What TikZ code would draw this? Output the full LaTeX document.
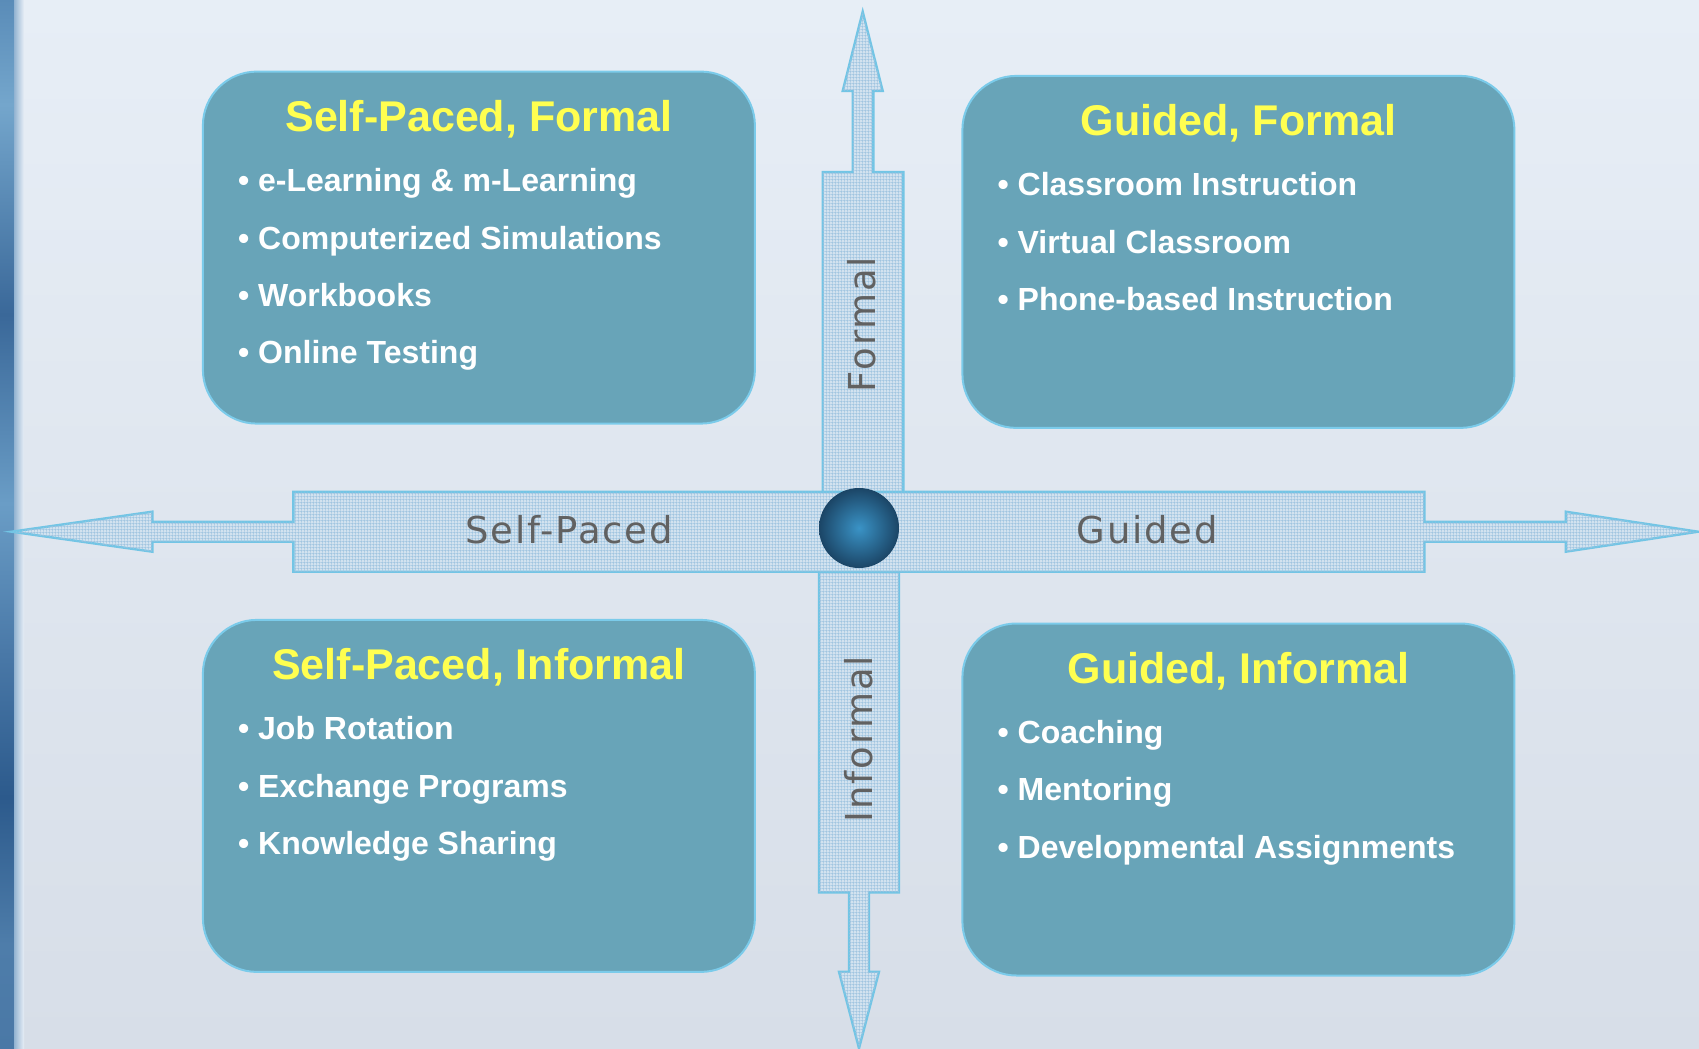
\documentclass[tikz,border=0pt]{standalone}
\usepackage{fontspec}
\usepackage{tikz}
\usetikzlibrary{positioning, patterns.meta}
\setsansfont{Liberation Sans}
\newfontfamily\axisfont[LetterSpace=5]{DejaVu Sans}
\definecolor{bgtop}{HTML}{E7EEF6}
\definecolor{bgbottom}{HTML}{D7DEE8}
\definecolor{boxfill}{HTML}{68A4B8}
\definecolor{boxline}{HTML}{7BCBEA}
\definecolor{titleyellow}{HTML}{FFFF50}
\definecolor{axisgray}{HTML}{616161}
\definecolor{arrowline}{HTML}{72C5E5}
\definecolor{arrowfill}{HTML}{D2E2EF}
\definecolor{meshline}{HTML}{9CC2DF}
\definecolor{hubin}{HTML}{3A93C6}
\definecolor{hubout}{HTML}{1B4566}
\definecolor{stripa}{HTML}{4A78A6}
\definecolor{stripb}{HTML}{4E7DAA}
\definecolor{stripc}{HTML}{2C5A8C}
\definecolor{stripd}{HTML}{4A79A8}
\definecolor{stripe}{HTML}{6A9DC6}
\definecolor{stripf}{HTML}{3A6899}
\definecolor{stripg}{HTML}{74A6CC}
\definecolor{striph}{HTML}{5A8CB8}
\pgfdeclareverticalshading{leftstrip}{100bp}{color(0bp)=(stripa); color(25bp)=(stripa);
  color(30bp)=(stripb); color(37bp)=(stripc); color(44bp)=(stripd);
  color(51bp)=(stripe); color(60bp)=(stripf); color(70bp)=(stripg);
  color(75bp)=(striph); color(100bp)=(striph)}
\tikzdeclarepattern{
  name=meshgrid,
  type=uncolored,
  bounding box={(0pt,0pt) and (1.6pt,1.6pt)},
  tile size={(1.6pt,1.6pt)},
  code={\draw[line width=0.3pt] (0pt,0.8pt) -- (1.6pt,0.8pt) (0.8pt,0pt) -- (0.8pt,1.6pt);}
}

\begin{document}
\begin{tikzpicture}[x=0.5pt, y=-0.5pt, every node/.style={align=center},
    quad/.style={
        draw=boxline,
        line width=1pt,
        fill=boxfill,
        rounded corners=27pt,
        minimum width=276pt,
        minimum height=176pt,
        inner sep=0pt
    },
    quadtitle/.style={
        font=\sffamily\bfseries\fontsize{21.5}{24}\selectfont,
        text=titleyellow,
        text height=15.5pt, text depth=0pt,
        inner sep=0pt
    },
    quaditem/.style={
        font=\sffamily\bfseries\fontsize{16}{19}\selectfont,
        text=white,
        text height=11.5pt, text depth=0pt,
        inner sep=0pt
    },
    axislabel/.style={
        font=\axisfont\fontsize{18.5}{22}\selectfont,
        text=axisgray,
        text height=13.5pt, text depth=0pt,
        inner sep=0pt
    },
    bigarrow/.style={draw=arrowline, line width=1.2pt, fill=arrowfill, line join=miter},
    mesh/.style={pattern={meshgrid}, pattern color=meshline}]

    % Background and left strip
    \useasboundingbox (0,0) rectangle (1699,1049);
    \fill[top color=bgtop, bottom color=bgbottom] (0,0) rectangle (1699,1049);
    \shade[shading=leftstrip] (0,0) rectangle (14,1049);
    \fill[left color=striph!60!bgtop, right color=bgtop] (14,0) rectangle (24,1049);

    % Vertical axis arrows
    \draw[bigarrow, postaction={mesh}] (862.7,11.7) -- (882.7,91) -- (873.3,91) -- (873.3,172) -- (903.3,172)
        -- (903.3,500) -- (822.7,500) -- (822.7,172) -- (852.7,172) -- (852.7,91) -- (842.7,91) -- cycle;
    \draw[bigarrow, postaction={mesh}] (819,560) -- (899,560) -- (899,892.3) -- (869,892.3) -- (869,971.7) -- (879,971.7)
        -- (859,1048.3) -- (839,971.7) -- (849,971.7) -- (849,892.3) -- (819,892.3) -- cycle;

    % Horizontal axis arrow
    \draw[bigarrow, postaction={mesh}] (11.7,531.7) -- (152.3,511.7) -- (152.3,521.7) -- (293.3,521.7) -- (293.3,491.7)
        -- (1424.3,491.7) -- (1424.3,521.7) -- (1565.7,521.7) -- (1565.7,511.7) -- (1698,531.7)
        -- (1565.7,551.7) -- (1565.7,541.7) -- (1424.3,541.7) -- (1424.3,571.7) -- (293.3,571.7)
        -- (293.3,541.7) -- (152.3,541.7) -- (152.3,551.7) -- cycle;

    % Centre ball
    \node[circle, minimum size=40pt, inner sep=0pt, inner color=hubin, outer color=hubout] (hub) at (859,528) {};

    % Axis labels
    \node[axislabel, rotate=90] (formal) at (861.5,324.5) {Formal};
    \node[axislabel, rotate=90] (informal) at (859.2,739) {Informal};
    \node[axislabel] (selfpaced) at (569.2,530) {Self-Paced};
    \node[axislabel] (guided) at (1147.3,530) {Guided};

    % Quadrant boxes
    \node[quad] (spf) at (478.9,247.6) {};
    \node[quad] (gf) at (1238.4,251.9) {};
    \node[quad] (spi) at (478.9,795.9) {};
    \node[quad] (gi) at (1238.4,799.5) {};

    % Self-Paced, Formal
    \node[quadtitle, below=22.75pt of spf.north, anchor=center] (spfT) {Self-Paced, Formal};
    \node[quaditem, below right=54.75pt and 17.9pt of spf.north west, anchor=west] (spf1) {\textbullet\ e-Learning \& m-Learning};
    \node[quaditem, below=28.7pt of spf1.west, anchor=west] (spf2) {\textbullet\ Computerized Simulations};
    \node[quaditem, below=28.7pt of spf2.west, anchor=west] (spf3) {\textbullet\ Workbooks};
    \node[quaditem, below=28.7pt of spf3.west, anchor=west] (spf4) {\textbullet\ Online Testing};

    % Guided, Formal
    \node[quadtitle, below=22.75pt of gf.north, anchor=center] (gfT) {Guided, Formal};
    \node[quaditem, below right=54.75pt and 17.9pt of gf.north west, anchor=west] (gf1) {\textbullet\ Classroom Instruction};
    \node[quaditem, below=28.7pt of gf1.west, anchor=west] (gf2) {\textbullet\ Virtual Classroom};
    \node[quaditem, below=28.7pt of gf2.west, anchor=west] (gf3) {\textbullet\ Phone-based Instruction};

    % Self-Paced, Informal
    \node[quadtitle, below=22.75pt of spi.north, anchor=center] (spiT) {Self-Paced, Informal};
    \node[quaditem, below right=54.75pt and 17.9pt of spi.north west, anchor=west] (spi1) {\textbullet\ Job Rotation};
    \node[quaditem, below=28.7pt of spi1.west, anchor=west] (spi2) {\textbullet\ Exchange Programs};
    \node[quaditem, below=28.7pt of spi2.west, anchor=west] (spi3) {\textbullet\ Knowledge Sharing};

    % Guided, Informal
    \node[quadtitle, below=22.75pt of gi.north, anchor=center] (giT) {Guided, Informal};
    \node[quaditem, below right=54.75pt and 17.9pt of gi.north west, anchor=west] (gi1) {\textbullet\ Coaching};
    \node[quaditem, below=28.7pt of gi1.west, anchor=west] (gi2) {\textbullet\ Mentoring};
    \node[quaditem, below=28.7pt of gi2.west, anchor=west] (gi3) {\textbullet\ Developmental Assignments};

\end{tikzpicture}
\end{document}
